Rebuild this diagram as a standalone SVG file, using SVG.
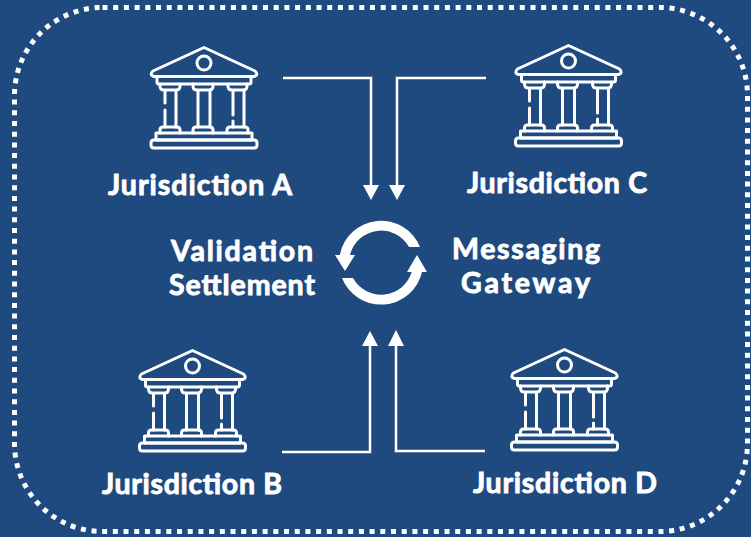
<svg xmlns="http://www.w3.org/2000/svg" width="751" height="537" viewBox="0 0 751 537">
<style>
.lbl{font-family:"Lato","Liberation Sans",sans-serif;font-weight:700;font-size:28.500px;fill:#fff;stroke:#fff;stroke-width:.9px}
.b{fill:none;stroke:#fff;stroke-width:3;stroke-linejoin:round;stroke-linecap:round}
.h{fill:#fff}
</style>
<defs>
<g id="bank" class="b">
<path d="M53 1.500 L104 25 Q108 29 103 30.500 H3 Q-2 29 2 25 Z"/>
<circle cx="53" cy="17" r="7"/>
<path d="M6 31 V36 Q6 38 8 38 H98 Q100 38 100 36 V31"/>
<path d="M9 38 V40 Q9 44 13 44 H25 Q29 44 29 40 V38 M14 44 V57 M14 64 V81 M25 44 V81"/>
<path d="M42 38 V40 Q42 44 46 44 H58 Q62 44 62 40 V38 M47 44 V81 M59 44 V81"/>
<path d="M77 38 V40 Q77 44 81 44 H92 Q96 44 96 40 V38 M82 44 V69 M82 75 V81 M93 44 V81"/>
<path d="M9 87 V84 Q9 81 12 81 H26 Q29 81 29 84 V87 M42 87 V84 Q42 81 45 81 H59 Q62 81 62 84 V87 M76 87 V84 Q76 81 79 81 H94 Q97 81 97 84 V87"/>
<path d="M5 87 H101 V94 H5 Z"/>
<path d="M3 94 H103 Q106 94 106 97 V99 Q106 102 103 102 H3 Q0 102 0 99 V97 Q0 94 3 94 Z"/>
</g>
</defs>
<rect width="751" height="537" fill="#1f4a7f"/>
<rect id="border" x="14.500" y="7.500" width="733" height="524" rx="88" ry="88" fill="none" stroke="#fff" stroke-width="5" stroke-dasharray="5 5.700"/>
<g id="connectors" fill="none" stroke="#fff" stroke-width="2.500">
<path d="M283 78 H371 V190"/>
<path d="M486 78 H397 V190"/>
<path d="M282 452 H370 V340"/>
<path d="M485 451 H396 V340"/>
<g fill="#fff" stroke="none">
<path d="M363 185 H379 L371 200 Z"/>
<path d="M389 185 H405 L397 200 Z"/>
<path d="M362 346 H378 L370 331 Z"/>
<path d="M388 346 H404 L396 330 Z"/>
</g>
</g>
<g id="node-a"><use href="#bank" x="151" y="46"/><text class="lbl" x="108" y="195" textLength="184">Jurisdiction A</text></g>
<g id="node-c"><use href="#bank" x="515.500" y="44"/><text class="lbl" x="467" y="193" textLength="180">Jurisdiction C</text></g>
<g id="node-b"><use href="#bank" x="139.500" y="349"/><text class="lbl" x="102" y="494" textLength="180">Jurisdiction B</text></g>
<g id="node-d"><use href="#bank" x="511.500" y="348"/><text class="lbl" x="473" y="493" textLength="184">Jurisdiction D</text></g>
<g id="center">
<path class="h" d="M420 247 A42 42 0 0 0 339.800 255 H335 L345 271 L355 255 H350 A32 32 0 0 1 409 247 Z"/>
<path class="h" d="M342 278 A42 42 0 0 0 422 272 H427 L417 255 L407 272 H411.700 A32 32 0 0 1 353 278 Z"/>
<text class="lbl" x="171" y="261" textLength="142">Validation</text>
<text class="lbl" x="169" y="295" textLength="146">Settlement</text>
<text class="lbl" x="452" y="259" textLength="148">Messaging</text>
<text class="lbl" x="461" y="293" textLength="129">Gateway</text>
</g>
</svg>
